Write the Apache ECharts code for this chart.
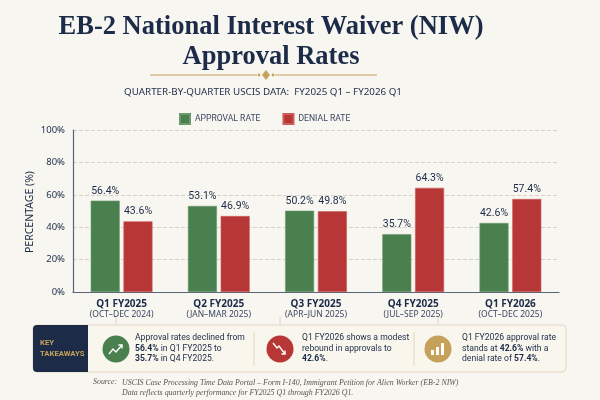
<!DOCTYPE html>
<html>
<head>
<meta charset="utf-8">
<script src="https://cdn.jsdelivr.net/npm/echarts@6/dist/echarts.min.js"></script>
<style>
  html, body { margin: 0; padding: 0; background: #f8f6f1; }
  #chart { width: 600px; height: 400px; }
</style>
</head>
<body>
<div id="chart"></div>
<script>
// quarters on the x axis
var quarters = ['Q1 FY2025', 'Q2 FY2025', 'Q3 FY2025', 'Q4 FY2025', 'Q1 FY2026'];
var quarterRanges = ['(OCT–DEC 2024)', '(JAN–MAR 2025)', '(APR–JUN 2025)', '(JUL–SEP 2025)', '(OCT–DEC 2025)'];
var approvalRate = [56.4, 53.1, 50.2, 35.7, 42.6];
var denialRate = [43.6, 46.9, 49.8, 64.3, 57.4];
var yTicks = [0, 20, 40, 60, 80, 100];

var navy = '#1b2b48';
var green = '#4a7f4e';
var red = '#b73737';
var gold = '#c5a15a';
var line = '#e2d6c0';
var sans = 'Noto Sans';
var narrow = 'Roboto';

chart1();

function chart1() {
    var myChart = echarts.init(document.getElementById('chart'));
    var t1 = approvalRate[0].toFixed(1) + '%';
    var t2 = approvalRate[3].toFixed(1) + '%';
    var t3 = approvalRate[4].toFixed(1) + '%';
    var t4 = denialRate[4].toFixed(1) + '%';
    var takeStyle = {
        fontFamily: narrow, fontSize: 8.6, fill: navy, lineHeight: 10.5,
        rich: {
            g: { fontFamily: narrow, fontSize: 8.6, fontWeight: 'bold', color: green, lineHeight: 10.5 },
            r: { fontFamily: narrow, fontSize: 8.6, fontWeight: 'bold', color: red, lineHeight: 10.5 }
        }
    };
    function take(x, text) {
        return { type: 'text', x: x, y: 333, style: Object.assign({ text: text }, takeStyle) };
    }
    var barLabel = {
        show: true, position: 'top', distance: 4,
        formatter: function (p) { return p.value.toFixed(1) + '%'; },
        fontFamily: narrow, fontSize: 10.5, color: navy
    };
    option = {
        backgroundColor: '#f8f6f1',
        textStyle: { fontFamily: sans },
        title: [{
            text: 'EB-2 National Interest Waiver (NIW)\nApproval Rates',
            left: 266,
            top: 7,
            textAlign: 'center',
            textStyle: {
                fontFamily: 'Liberation Serif',
                fontWeight: 'bold',
                fontSize: 26.5,
                lineHeight: 30,
                color: navy
            }
        }],
        legend: {
            left: 174,
            top: 108,
            icon: 'rect',
            itemWidth: 10,
            itemHeight: 10,
            itemGap: 22,
            textStyle: { fontFamily: narrow, fontSize: 8.6, color: '#3a4660' },
            data: ['APPROVAL RATE', 'DENIAL RATE']
        },
        grid: {
            left: 73,
            right: 41,
            top: 130,
            bottom: 108
        },
        xAxis: {
            type: 'category',
            data: quarters,
            axisTick: { show: false },
            axisLine: { lineStyle: { color: '#5a6378', width: 1.2 } },
            axisLabel: {
                interval: 0,
                margin: 6,
                formatter: function (v, i) {
                    return '{a|' + v + '}\n{b|' + quarterRanges[i] + '}';
                },
                rich: {
                    a: { fontFamily: sans, fontSize: 10, fontWeight: 'bold', color: navy, lineHeight: 12 },
                    b: { fontFamily: sans, fontSize: 8.5, color: '#3a4660', lineHeight: 10 }
                }
            }
        },
        yAxis: {
            type: 'value',
            min: yTicks[0],
            max: yTicks[yTicks.length - 1],
            interval: 20,
            axisLine: { show: true, lineStyle: { color: '#5a6378', width: 1.2 } },
            axisTick: { show: false },
            axisLabel: { formatter: '{value}%', fontFamily: sans, fontSize: 9.5, color: navy, margin: 8 },
            splitLine: { lineStyle: { type: 'dashed', color: '#d8d2c6' } }
        },
        series: [
            {
                name: 'APPROVAL RATE',
                type: 'bar',
                data: approvalRate,
                barWidth: 29,
                barGap: '13%',
                itemStyle: { color: green, borderColor: '#6b9a6e', borderWidth: 0.6 },
                label: barLabel
            },
            {
                name: 'DENIAL RATE',
                type: 'bar',
                data: denialRate,
                barWidth: 29,
                itemStyle: { color: red, borderColor: '#cc5b5b', borderWidth: 0.6 },
                label: barLabel
            }
        ],
        graphic: [
            // y axis title
            {
                type: 'text', x: 30, y: 212, rotation: Math.PI / 2,
                style: {
                    text: 'PERCENTAGE (%)', fontFamily: sans, fontSize: 10.5, fill: navy,
                    align: 'center', verticalAlign: 'middle'
                }
            },
            // divider under title
            { type: 'line', shape: { x1: 150, y1: 75, x2: 257, y2: 75 }, style: { stroke: gold, lineWidth: 1.2 } },
            { type: 'line', shape: { x1: 275, y1: 75, x2: 377, y2: 75 }, style: { stroke: gold, lineWidth: 1.2 } },
            { type: 'circle', shape: { cx: 259, cy: 75, r: 1.4 }, style: { fill: gold } },
            { type: 'circle', shape: { cx: 273, cy: 75, r: 1.4 }, style: { fill: gold } },
            { type: 'polygon', shape: { points: [[266, 70], [270, 75], [266, 80], [262, 75]] }, style: { fill: gold } },
            {
                type: 'text', x: 263, y: 92,
                style: {
                    text: 'QUARTER-BY-QUARTER USCIS DATA:  FY2025 Q1 – FY2026 Q1',
                    fontFamily: sans, fontSize: 9.8, fill: navy,
                    align: 'center', verticalAlign: 'middle'
                }
            },
            // takeaways box
            { type: 'line', shape: { x1: 116, y1: 316, x2: 116, y2: 336 }, style: { stroke: line, lineWidth: 1 } },
            { type: 'line', shape: { x1: 280, y1: 316, x2: 280, y2: 336 }, style: { stroke: line, lineWidth: 1 } },
            { type: 'line', shape: { x1: 438, y1: 316, x2: 438, y2: 336 }, style: { stroke: line, lineWidth: 1 } },
            { type: 'rect', shape: { x: 33, y: 325, width: 533, height: 47, r: 4 }, style: { fill: '#f9f6ee', stroke: line, lineWidth: 1 } },
            { type: 'rect', shape: { x: 33, y: 325, width: 55, height: 47, r: [4, 0, 0, 4] }, style: { fill: navy } },
            {
                type: 'text', x: 40, y: 338,
                style: { text: 'KEY\nTAKEAWAYS', fontFamily: narrow, fontSize: 7.7, fontWeight: 'bold', fill: gold, lineHeight: 11 }
            },
            { type: 'line', shape: { x1: 254, y1: 332, x2: 254, y2: 366 }, style: { stroke: line, lineWidth: 1 } },
            { type: 'line', shape: { x1: 414, y1: 332, x2: 414, y2: 366 }, style: { stroke: line, lineWidth: 1 } },
            // icon 1: trend up
            { type: 'circle', shape: { cx: 116, cy: 349, r: 13.5 }, style: { fill: green } },
            { type: 'polyline', shape: { points: [[109, 354], [113, 349], [116, 352], [122, 345]] }, style: { stroke: '#fff', lineWidth: 1.4, fill: null } },
            { type: 'polyline', shape: { points: [[118.5, 345], [122, 345], [122, 348.5]] }, style: { stroke: '#fff', lineWidth: 1.4, fill: null } },
            // icon 2: trend down
            { type: 'circle', shape: { cx: 280, cy: 349, r: 13.5 }, style: { fill: red } },
            { type: 'polyline', shape: { points: [[273, 343], [277, 348], [279, 346], [285, 354]] }, style: { stroke: '#fff', lineWidth: 1.4, fill: null } },
            { type: 'polyline', shape: { points: [[285, 350.5], [285, 354], [281.5, 354]] }, style: { stroke: '#fff', lineWidth: 1.4, fill: null } },
            // icon 3: bar chart
            { type: 'circle', shape: { cx: 438, cy: 349, r: 13.5 }, style: { fill: gold } },
            { type: 'rect', shape: { x: 431, y: 350, width: 3, height: 5 }, style: { fill: '#fff' } },
            { type: 'rect', shape: { x: 436, y: 347, width: 3, height: 8 }, style: { fill: '#fff' } },
            { type: 'rect', shape: { x: 441, y: 343, width: 3, height: 12 }, style: { fill: '#fff' } },
            take(135, 'Approval rates declined from\n{g|' + t1 + '} in ' + quarters[0] + ' to\n{g|' + t2 + '} in ' + quarters[3] + '.'),
            take(302, quarters[4] + ' shows a modest\nrebound in approvals to\n{g|' + t3 + '}.'),
            take(462, quarters[4] + ' approval rate\nstands at {g|' + t3 + '} with a\ndenial rate of {r|' + t4 + '}.'),
            // source
            {
                type: 'text', x: 93, y: 378,
                style: { text: 'Source:', fontFamily: 'Liberation Serif', fontStyle: 'italic', fontSize: 7.9, fill: '#555' }
            },
            {
                type: 'text', x: 122, y: 378,
                style: {
                    text: 'USCIS Case Processing Time Data Portal – Form I-140, Immigrant Petition for Alien Worker (EB-2 NIW)\nData reflects quarterly performance for FY2025 Q1 through FY2026 Q1.',
                    fontFamily: 'Liberation Serif', fontStyle: 'italic', fontSize: 7.9, fill: '#555', lineHeight: 10
                }
            }
        ]
    };
    myChart.setOption(option);
}
</script>
</body>
</html>
